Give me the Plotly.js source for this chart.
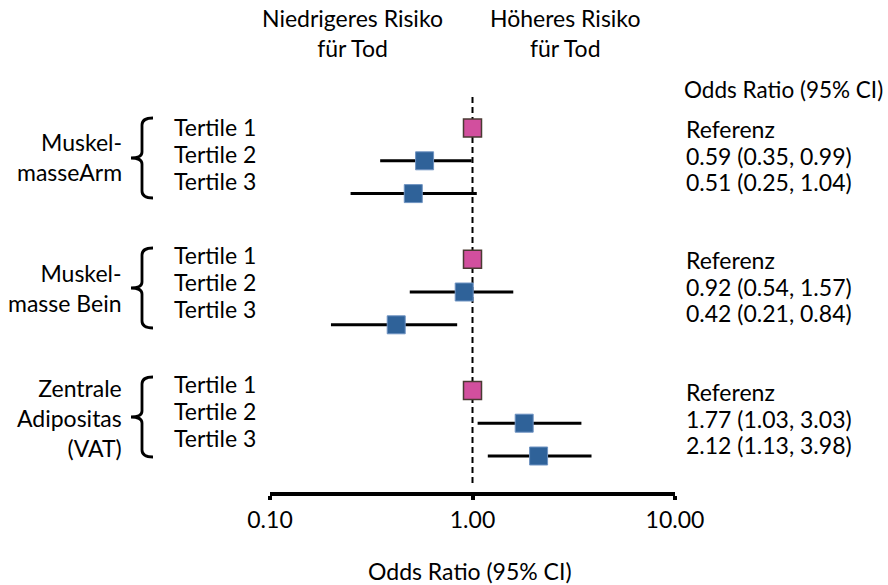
<!DOCTYPE html>
<html>
<head>
<meta charset="utf-8">
<script src="https://cdn.plot.ly/plotly-3.0.1.min.js"></script>
<style>html,body{margin:0;padding:0;background:#fff;}#chart{width:888px;height:585px;}</style>
</head>
<body>
<div id="chart"></div>
<script>
// ---- data ----
const groupLabels = ['Muskel-<br>masseArm', 'Muskel-<br>masse Bein', 'Zentrale<br>Adipositas<br>(VAT)'];
const tertileLabels = ['Tertile 1', 'Tertile 2', 'Tertile 3'];
const orText = [
  'Referenz', '0.59 (0.35, 0.99)', '0.51 (0.25, 1.04)',
  'Referenz', '0.92 (0.54, 1.57)', '0.42 (0.21, 0.84)',
  'Referenz', '1.77 (1.03, 3.03)', '2.12 (1.13, 3.98)'
];
// plotted positions as drawn in the figure
const orValues = [1.00, 0.58, 0.51, 1.00, 0.91, 0.42, 1.00, 1.80, 2.12];
const ciLow    = [1.00, 0.35, 0.25, 1.00, 0.49, 0.20, 1.00, 1.06, 1.19];
const ciHigh   = [1.00, 0.99, 1.05, 1.00, 1.59, 0.84, 1.00, 3.45, 3.87];
const tickVals = [0.1, 1, 10];
const tickText = ['0.10', '1.00', '10.00'];
const axisTitle = 'Odds Ratio (95% CI)';
const tableHeader = 'Odds Ratio (95% CI)';
const lowerRiskLabel = 'Niedrigeres Risiko<br>für Tod';
const higherRiskLabel = 'Höheres Risiko<br>für Tod';

// ---- layout helpers ----
const FONT = 'Lato, "Open Sans", sans-serif';
const FS = 23;
const L = 270, R = 675, PH = 492;
const px2x = p => (p - L) / (R - L);
const py2y = p => (PH - p) / PH;

const rowIdx = orValues.map((_, i) => Math.floor(i / 3) * 4 + (i % 3));
const isRef = orText.map(t => t === 'Referenz');

function pick(arr, cond) { return arr.filter((_, i) => cond(i)); }

const blueIdx = i => !isRef[i];
const pinkIdx = i => isRef[i];

const traces = [
  {
    type: 'scatter', mode: 'markers',
    x: pick(orValues, blueIdx), y: pick(rowIdx, blueIdx),
    error_x: {
      type: 'data', symmetric: false,
      array: pick(orValues.map((v, i) => ciHigh[i] - v), blueIdx),
      arrayminus: pick(orValues.map((v, i) => v - ciLow[i]), blueIdx),
      color: '#000', thickness: 3, width: 0
    },
    marker: { symbol: 'square', size: 18, color: '#2F6299', line: { color: '#6F93C2', width: 1 } },
    hoverinfo: 'skip', showlegend: false
  },
  {
    type: 'scatter', mode: 'markers',
    x: pick(orValues, pinkIdx), y: pick(rowIdx, pinkIdx),
    marker: { symbol: 'square', size: 18, color: '#D24F9E', line: { color: '#4A3A33', width: 1.5 } },
    hoverinfo: 'skip', showlegend: false
  }
];

const annotations = [];
function ann(text, px, py, xanchor, extra) {
  annotations.push(Object.assign({
    xref: 'paper', yref: 'paper', x: px2x(px), y: py2y(py),
    xanchor: xanchor, yanchor: 'middle', align: xanchor === 'center' ? 'center' : xanchor,
    showarrow: false, text: text,
    font: { family: FONT, size: FS, color: '#000' }
  }, extra || {}));
}

ann(lowerRiskLabel, 352, 33, 'center');
ann(higherRiskLabel, 565, 33, 'center');
ann(tableHeader, 682, 89, 'left', { font: { family: FONT, size: 22.5, color: '#000' } });

const groupLabelY = [157, 288, 418];
const tertileY0 = [127, 255, 384];
const tableY0 = [129, 260, 392];
const braceY = [158, 288, 417];
groupLabels.forEach((g, gi) => {
  ann(g, 124, groupLabelY[gi], 'right');
  tertileLabels.forEach((t, ti) => {
    ann(t, 172, tertileY0[gi] + ti * 27, 'left');
    ann(orText[gi * 3 + ti], 684, tableY0[gi] + ti * 26.5, 'left');
  });
});
ann(axisTitle, 470, 571, 'center');

const shapes = [];
// dashed reference line at OR = 1
shapes.push({
  type: 'line', xref: 'x', yref: 'paper', x0: 1, x1: 1, y0: py2y(97), y1: py2y(486),
  line: { color: '#000', width: 2, dash: '6px,4px' }, layer: 'below'
});
// braces
braceY.forEach(cy => {
  const P = (x, y) => px2x(x).toFixed(5) + ',' + py2y(y).toFixed(5);
  const h = 40, xv = 142, xe = 153, xt = 131;
  const path = 'M' + P(xe, cy - h) +
    ' Q' + P(xv, cy - h) + ' ' + P(xv, cy - h + 7) +
    ' L' + P(xv, cy - 6) +
    ' Q' + P(xv, cy) + ' ' + P(xt, cy) +
    ' Q' + P(xv, cy) + ' ' + P(xv, cy + 6) +
    ' L' + P(xv, cy + h - 7) +
    ' Q' + P(xv, cy + h) + ' ' + P(xe, cy + h);
  shapes.push({ type: 'path', xref: 'paper', yref: 'paper', path: path, line: { color: '#000', width: 2.8 } });
});

const baseAxis = {
  type: 'log', range: [-1, 1], tickvals: tickVals, ticktext: tickText,
  tickwidth: 4, tickcolor: '#000',
  showgrid: false, zeroline: false, fixedrange: true
};

const layout = {
  width: 888, height: 585,
  margin: { l: L, r: 888 - R, t: 0, b: 585 - PH, pad: 0 },
  paper_bgcolor: '#fff', plot_bgcolor: 'rgba(0,0,0,0)',
  showlegend: false,
  font: { family: FONT, size: FS, color: '#000' },
  xaxis: Object.assign({}, baseAxis, {
    ticks: 'outside', ticklen: 4,
    showline: true, linewidth: 4, linecolor: '#000',
    tickfont: { family: FONT, size: FS, color: '#000' }
  }),
  xaxis2: Object.assign({}, baseAxis, {
    overlaying: 'x', side: 'bottom', anchor: 'y',
    ticks: 'inside', ticklen: 3, showticklabels: false, showline: false
  }),
  yaxis: {
    range: [(PH - 128) / 32.8, -128 / 32.8], visible: false, fixedrange: true
  },
  annotations: annotations,
  shapes: shapes
};

Plotly.newPlot('chart', traces, layout, { staticPlot: true, displayModeBar: false });
</script>
</body>
</html>
